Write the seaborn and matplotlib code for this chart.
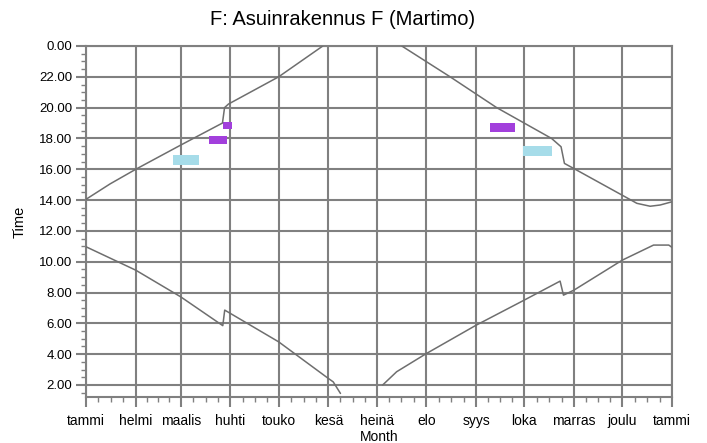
import numpy as np
import matplotlib
matplotlib.use('Agg')
import matplotlib.pyplot as plt
import seaborn as sns

# Month ticks (day of year) and Finnish month names
month_days = [0, 31, 59, 90, 120, 151, 181, 212, 243, 273, 304, 334, 365]
month_names = ['tammi', 'helmi', 'maalis', 'huhti', 'touko', 'kesä', 'heinä',
               'elo', 'syys', 'loka', 'marras', 'joulu', 'tammi']

# Upper curve (evening), two segments because it wraps past midnight
upper_left_day = [0, 15, 31, 59, 85, 86.3, 88.7, 120, 147.5]
upper_left_time = [14.05, 15.05, 16.0, 17.57, 19.0, 20.0, 20.23, 22.0, 24.0]
upper_right_day = [196.7, 226.8, 255.8, 290, 295.9, 298.0, 304.7, 339.5, 343.1, 351.4, 357.6, 365]
upper_right_time = [24.0, 22.0, 20.0, 18.0, 17.46, 16.38, 16.0, 14.0, 13.79, 13.6, 13.68, 13.89]

# Lower curve (morning)
lower_left_day = [0, 31, 59, 85.2, 86.4, 90, 120, 151, 154, 158.5]
lower_left_time = [10.97, 9.45, 7.72, 5.85, 6.86, 6.64, 4.8, 2.42, 2.2, 1.45]
lower_right_day = [184.8, 193.5, 212, 243, 273, 295.3, 297.4, 304, 334, 353.5, 363, 365]
lower_right_time = [2.0, 2.86, 4.04, 5.88, 7.51, 8.74, 7.83, 8.16, 10.1, 11.08, 11.08, 10.93]

# Shadow blobs: day start, day end, time low, time high
blob_d0 = [54.4, 76.8, 85.2, 251.7, 272.5]
blob_d1 = [70.6, 87.6, 91.2, 267.3, 290.2]
blob_t0 = [16.3, 17.64, 18.61, 18.4, 16.86]
blob_t1 = [16.9, 18.18, 19.05, 18.98, 17.5]
blob_col = ['#a6dce9', '#a23fdc', '#a23fdc', '#a23fdc', '#a6dce9']

sns.set_style('white')
plt.rcParams['font.family'] = ['Liberation Sans', 'DejaVu Sans']
plt.rcParams['text.color'] = 'black'
plt.rcParams['axes.labelcolor'] = 'black'
plt.rcParams['xtick.color'] = 'black'
plt.rcParams['ytick.color'] = 'black'

fig = plt.figure(figsize=(7.07, 4.43), dpi=100)
ax = fig.add_axes([86 / 707, 1 - 397 / 443, 586 / 707, 351 / 443])

grid_col = '#808080'
ax.set_xlim(0, 365)
ax.set_ylim(1.22, 24)
ax.set_xticks(month_days)
ax.set_xticklabels(month_names, fontsize=10)
ax.set_xticks([m + (n - m) * q / 4 for m, n in zip(month_days[:-1], month_days[1:]) for q in (1, 2, 3)], minor=True)
yt = list(range(2, 25, 2))
ax.set_yticks(yt)
ax.set_yticklabels(['%.2f' % (h % 24) for h in yt], fontsize=9.5)
ax.set_yticks(np.arange(1.5, 24, 0.5), minor=True)
ax.grid(True, which='major', color=grid_col, linewidth=1.5)
ax.tick_params(which='both', bottom=True, left=True, top=False, right=False)
ax.tick_params(which='major', length=7, width=1.5, color=grid_col, pad=3)
ax.tick_params(axis='x', which='major', pad=5)
ax.tick_params(which='minor', length=3.5, width=1.0, color=grid_col)
for s in ax.spines.values():
    s.set_color(grid_col)
    s.set_linewidth(1.5)

for d0, d1, t0, t1, c in zip(blob_d0, blob_d1, blob_t0, blob_t1, blob_col):
    ax.fill_between([d0, d1], [t0, t0], [t1, t1], color=c, linewidth=0, zorder=3)

line_col = '#6e6e6e'
for xs, ys in [(upper_left_day, upper_left_time), (upper_right_day, upper_right_time),
               (lower_left_day, lower_left_time), (lower_right_day, lower_right_time)]:
    sns.lineplot(x=xs, y=ys, ax=ax, color=line_col, linewidth=1.1, sort=False,
                 estimator=None, zorder=4)

ax.set_xlabel('Month', fontsize=10, labelpad=2)
ax.set_ylabel('Time', fontsize=10.5, labelpad=9)
fig.text(0.484, 0.955, 'F: Asuinrakennus F (Martimo)', ha='center', va='center', fontsize=14.5)

fig.savefig('out.png', dpi=100)
